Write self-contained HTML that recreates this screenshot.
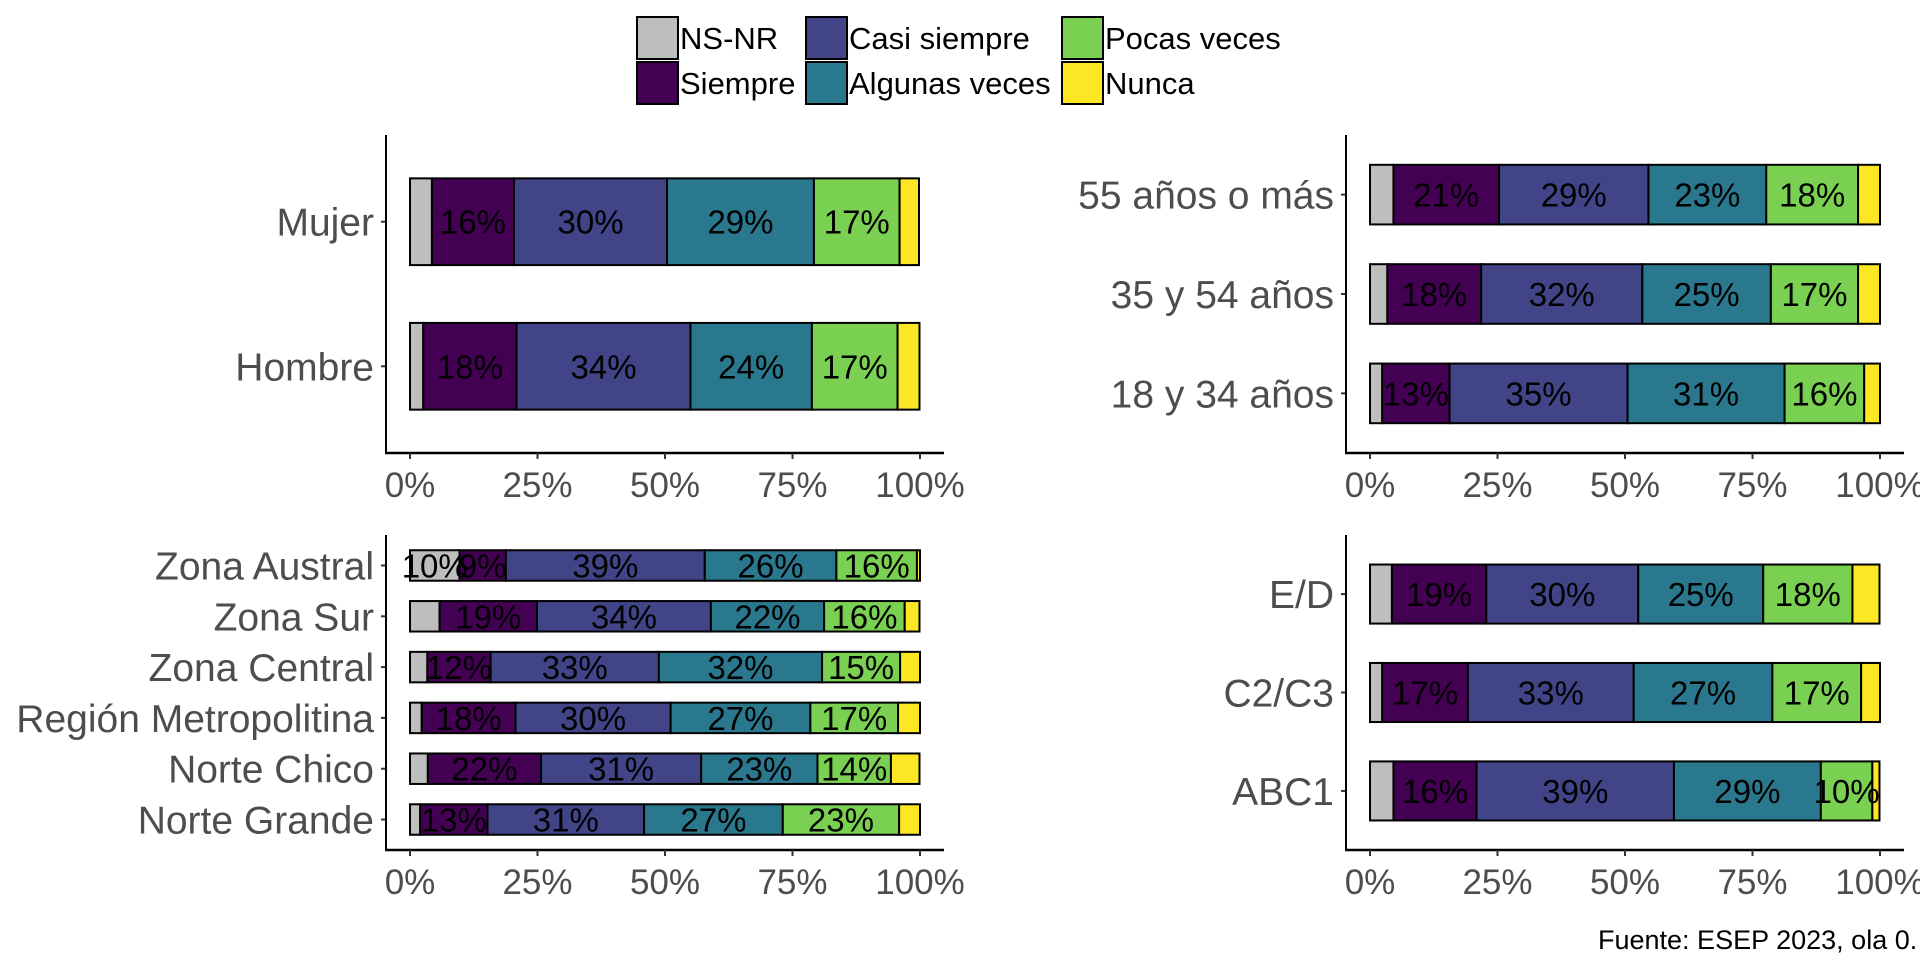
<!DOCTYPE html>
<html><head><meta charset="utf-8">
<style>
html,body{margin:0;padding:0;background:#fff;}
svg{display:block;font-family:"Liberation Sans",sans-serif;}
</style></head>
<body>
<svg id="chart" width="1920" height="960" viewBox="0 0 1920 960" xmlns="http://www.w3.org/2000/svg">
<g id="legend"></g>
<g id="panels"></g>
<text x="1598" y="949" font-size="27" fill="#000">Fuente: ESEP 2023, ola 0.</text>
</svg>
<script>
const series = ["NS-NR","Siempre","Casi siempre","Algunas veces","Pocas veces","Nunca"];
const colors = ["#bebebe","#440154","#414487","#2a788e","#7ad151","#fde725"];
const xTicks = [0,25,50,75,100];
const xTickLabels = ["0%","25%","50%","75%","100%"];

const sexCats = ["Mujer","Hombre"];
const sexVals = [
  [4.3,16.1,30.0,28.8,16.8,3.8],
  [2.6,18.3,34.1,23.8,16.8,4.3]
];
const ageCats = ["55 años o más","35 y 54 años","18 y 34 años"];
const ageVals = [
  [4.6,20.7,29.3,23.1,18.0,4.3],
  [3.4,18.4,31.6,25.2,17.1,4.3],
  [2.4,13.2,34.9,30.8,15.6,3.1]
];
const zoneCats = ["Zona Austral","Zona Sur","Zona Central","Región Metropolitina","Norte Chico","Norte Grande"];
const zoneVals = [
  [9.7,9.1,39.0,25.8,15.8,0.6],
  [5.8,19.1,34.1,22.2,15.8,2.9],
  [3.4,12.4,33.0,32.0,15.3,3.9],
  [2.3,18.4,30.4,27.4,17.2,4.3],
  [3.5,22.2,31.4,22.8,14.4,5.6],
  [2.0,13.2,30.7,27.2,22.8,4.1]
];
const gseCats = ["E/D","C2/C3","ABC1"];
const gseVals = [
  [4.3,18.5,29.8,24.5,17.5,5.3],
  [2.4,16.8,32.5,27.2,17.4,3.7],
  [4.6,16.3,38.7,28.8,10.1,1.4]
];

const NS="http://www.w3.org/2000/svg";
function mk(tag,attrs,parent){const e=document.createElementNS(NS,tag);for(const k in attrs)e.setAttribute(k,attrs[k]);if(parent)parent.appendChild(e);return e;}

function panel(name,cats,vals,x0,x1,axisX,yTop,yBot){
  const g=mk("g",{},document.getElementById("panels"));
  
  
  const xs=v=>x0+(x1-x0)*v/100;
  const n=cats.length,p=0.6,step=(yBot-yTop)/(n-1+2*p);
  const yc=i=>yTop+step*(p+i);
  const bh=step*0.6;
  cats.forEach((c,i)=>{
    let cum=0;
    const row=mk("g",{},g);
    
    
    vals[i].forEach((v,j)=>{
      const r=mk("rect",{x:xs(cum),y:yc(i)-bh/2,width:xs(cum+v)-xs(cum),height:bh,fill:colors[j],stroke:"#000","stroke-width":2},row);
      
      
      cum+=v;
    });
    cum=0;
    vals[i].forEach((v,j)=>{
      if(v>=7 && j<5){
        const t=mk("text",{x:xs(cum+v/2),y:yc(i)+12,"font-size":33,"text-anchor":"middle",fill:"#000"},row);
        t.textContent=Math.round(v)+"%";
        
        
      }
      cum+=v;
    });
    const lab=mk("text",{x:axisX-12,y:yc(i)+14,"font-size":39,"text-anchor":"end",fill:"#4d4d4d"},g);
    lab.textContent=c;
    
    
    mk("line",{x1:axisX-5,x2:axisX,y1:yc(i),y2:yc(i),stroke:"#333","stroke-width":2},g);
  });
  const ya=mk("line",{x1:axisX,x2:axisX,y1:yTop,y2:yBot+1,stroke:"#000","stroke-width":2},g);
  
  
  const xa=mk("line",{x1:axisX-1,x2:x1+24,y1:yBot,y2:yBot,stroke:"#000","stroke-width":2.5},g);
  
  
  xTicks.forEach((t,k)=>{
    mk("line",{x1:xs(t),x2:xs(t),y1:yBot,y2:yBot+6,stroke:"#333","stroke-width":2},g);
    const tl=mk("text",{x:xs(t),y:yBot+44,"font-size":35,"text-anchor":"middle",fill:"#4d4d4d"},g);
    tl.textContent=xTickLabels[k];
    
    
  });
}
panel("sex",sexCats,sexVals,410,920,386,135,453);
panel("age",ageCats,ageVals,1370,1880,1346,135,453);
panel("zone",zoneCats,zoneVals,410,920,386,535,850);
panel("gse",gseCats,gseVals,1370,1880,1346,535,850);

const lg=document.getElementById("legend");
const colX=[637,806,1062], rowY=[17,62];
series.forEach((s,k)=>{
  const c=Math.floor(k/2), r=k%2;
  const e=mk("g",{},lg);
  
  
  mk("rect",{x:colX[c],y:rowY[r],width:41,height:42,fill:colors[k],stroke:"#000","stroke-width":2},e);
  const t=mk("text",{x:colX[c]+43,y:rowY[r]+32,"font-size":31,fill:"#000"},e);
  t.textContent=s;
});
</script>
</body></html>
